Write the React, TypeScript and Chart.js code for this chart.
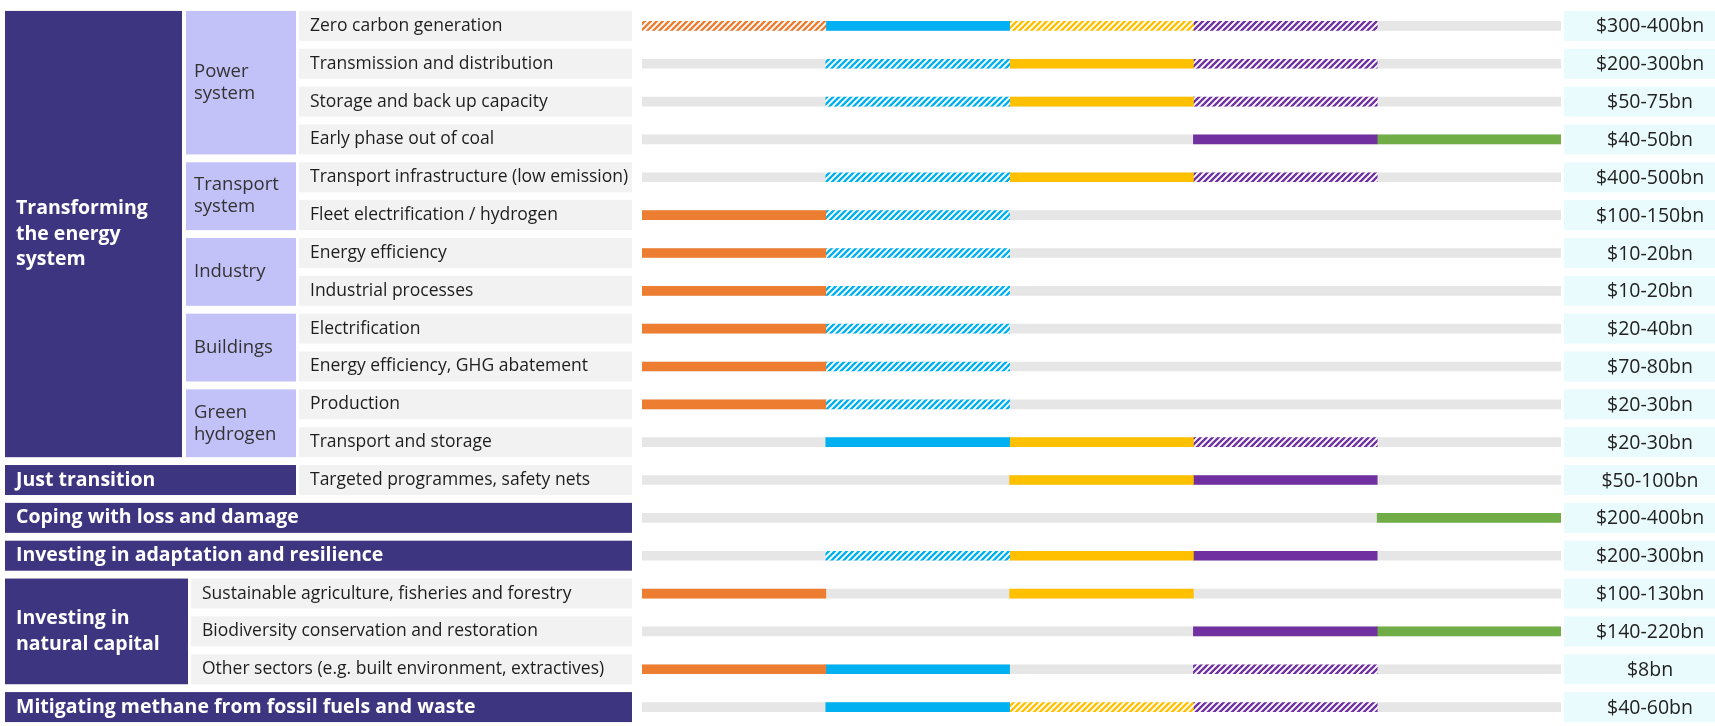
import React, { useEffect, useRef } from "react";
import { Chart, registerables } from "chart.js";

Chart.register(...registerables);

// ---- data ----
const rowLabels = [
  "Zero carbon generation",
  "Transmission and distribution",
  "Storage and back up capacity",
  "Early phase out of coal",
  "Transport infrastructure (low emission)",
  "Fleet electrification / hydrogen",
  "Energy efficiency",
  "Industrial processes",
  "Electrification",
  "Energy efficiency, GHG abatement",
  "Production",
  "Transport and storage",
  "Targeted programmes, safety nets",
  "",
  "",
  "Sustainable agriculture, fisheries and forestry",
  "Biodiversity conservation and restoration",
  "Other sectors (e.g. built environment, extractives)",
  "",
];

const valueLabels = [
  "$300-400bn",
  "$200-300bn",
  "$50-75bn",
  "$40-50bn",
  "$400-500bn",
  "$100-150bn",
  "$10-20bn",
  "$10-20bn",
  "$20-40bn",
  "$70-80bn",
  "$20-30bn",
  "$20-30bn",
  "$50-100bn",
  "$200-400bn",
  "$200-300bn",
  "$100-130bn",
  "$140-220bn",
  "$8bn",
  "$40-60bn",
];

// state per row: 0 = none, 1 = solid, 2 = hatched
const orangeCol = [2, 0, 0, 0, 0, 1, 1, 1, 1, 1, 1, 0, 0, 0, 0, 1, 0, 1, 0];
const blueCol = [1, 2, 2, 0, 2, 2, 2, 2, 2, 2, 2, 1, 0, 0, 2, 0, 0, 1, 1];
const yellowCol = [2, 1, 1, 0, 1, 0, 0, 0, 0, 0, 0, 1, 1, 0, 1, 1, 0, 0, 2];
const purpleCol = [2, 2, 2, 1, 2, 0, 0, 0, 0, 0, 0, 2, 1, 0, 1, 0, 1, 2, 2];
const greenCol = [0, 0, 0, 1, 0, 0, 0, 0, 0, 0, 0, 0, 0, 1, 0, 0, 1, 0, 0];

const columns = [orangeCol, blueCol, yellowCol, purpleCol, greenCol];
const columnColors = ["#ed7d31", "#00b0f0", "#ffc000", "#7030a0", "#70ad47"];

// main groups: label lines, row range, right edge kind
const groupLabels = [
  ["Transforming", "the energy", "system"],
  ["Just transition"],
  ["Coping with loss and damage"],
  ["Investing in adaptation and resilience"],
  ["Investing in", "natural capital"],
  ["Mitigating methane from fossil fuels and waste"],
];
const groupFrom = [0, 12, 13, 14, 15, 18];
const groupTo = [11, 12, 13, 14, 17, 18];
const groupKind = ["sub", "narrow", "full", "full", "nat", "full"];

const subLabels = [
  ["Power", "system"],
  ["Transport", "system"],
  ["Industry"],
  ["Buildings"],
  ["Green", "hydrogen"],
];
const subFrom = [0, 4, 6, 8, 10];
const subTo = [3, 5, 7, 9, 11];

const DARK = "#3e3580";
const LAV = "#c2c2f9";
const CELL = "#f2f2f2";
const TRACK = "#e6e6e6";
const VALCELL = "#eafbfd";
const FONT = "'Open Sans', sans-serif";

function hatch(color: string) {
  const s = 6;
  const c = document.createElement("canvas");
  c.width = s;
  c.height = s;
  const x = c.getContext("2d")!;
  x.fillStyle = "#ffffff";
  x.fillRect(0, 0, s, s);
  x.strokeStyle = color;
  x.lineWidth = 2.3;
  x.beginPath();
  x.moveTo(-1, s + 1);
  x.lineTo(s + 1, -1);
  x.moveTo(-1, 1);
  x.lineTo(1, -1);
  x.moveTo(s - 1, s + 1);
  x.lineTo(s + 1, s - 1);
  x.stroke();
  return x.createPattern(c, "repeat")!;
}

const tablePlugin = {
  id: "tablePlugin",
  beforeDraw(chart: any) {
    const ctx = chart.ctx as CanvasRenderingContext2D;
    const y = chart.scales.y;
    const cy = (i: number) => y.getPixelForValue(i);
    const HH = 15;
    ctx.save();
    ctx.fillStyle = "#ffffff";
    ctx.fillRect(0, 0, chart.width, chart.height);

    // value cells
    for (let i = 0; i < valueLabels.length; i++) {
      const c = cy(i);
      ctx.fillStyle = VALCELL;
      ctx.fillRect(1564, c - HH, 1715 - 1564, HH * 2);
      ctx.fillStyle = "#222222";
      ctx.font = `19.5px ${FONT}`;
      ctx.textAlign = "center";
      ctx.textBaseline = "middle";
      ctx.fillText(valueLabels[i], 1650, c + 1);
    }

    // groups
    for (let g = 0; g < groupLabels.length; g++) {
      const top = cy(groupFrom[g]) - HH;
      const bot = cy(groupTo[g]) + HH;
      const kind = groupKind[g];
      const x1 = kind === "sub" ? 182 : kind === "narrow" ? 296 : kind === "nat" ? 188 : 632;
      ctx.fillStyle = DARK;
      ctx.fillRect(5, top, x1 - 5, bot - top);
      const lines = groupLabels[g];
      const lh = 25.5;
      const mid = (top + bot) / 2;
      ctx.fillStyle = "#ffffff";
      ctx.font = `bold 19.5px ${FONT}`;
      ctx.textAlign = "left";
      ctx.textBaseline = "middle";
      lines.forEach((t, k) => {
        ctx.fillText(t, 16, mid + (k - (lines.length - 1) / 2) * lh);
      });
      // item cells
      const itemX0 = kind === "nat" ? 191 : 299;
      if (kind !== "full") {
        for (let r = groupFrom[g]; r <= groupTo[g]; r++) {
          if (!rowLabels[r]) continue;
          const c = cy(r);
          ctx.fillStyle = CELL;
          ctx.fillRect(itemX0, c - HH, 632 - itemX0, HH * 2);
          ctx.fillStyle = "#1e1e1e";
          ctx.font = `17.5px ${FONT}`;
          ctx.textAlign = "left";
          ctx.textBaseline = "middle";
          ctx.fillText(rowLabels[r], itemX0 + 11, c);
        }
      }
    }

    // sub groups
    for (let s = 0; s < subLabels.length; s++) {
      const top = cy(subFrom[s]) - HH;
      const bot = cy(subTo[s]) + HH;
      ctx.fillStyle = LAV;
      ctx.fillRect(186, top, 296 - 186, bot - top);
      const lines = subLabels[s];
      const lh = 22;
      const mid = (top + bot) / 2;
      ctx.fillStyle = "#333333";
      ctx.font = `18.5px ${FONT}`;
      ctx.textAlign = "left";
      ctx.textBaseline = "middle";
      lines.forEach((t, k) => {
        ctx.fillText(t, 194, mid + (k - (lines.length - 1) / 2) * lh);
      });
    }
    ctx.restore();
  },
};

export default function App() {
  const ref = useRef<HTMLCanvasElement | null>(null);
  useEffect(() => {
    document.body.style.margin = "0";
    const canvas = ref.current!;
    const datasets: any[] = columns.map((col, ci) => ({
      label: "col" + ci,
      data: col.map((s) => (s ? [ci, ci + 1] : null)),
      backgroundColor: col.map((s) => (s === 2 ? hatch(columnColors[ci]) : columnColors[ci])),
      borderWidth: 0,
      barThickness: 9,
      grouped: false,
      order: 0,
    }));
    datasets.push({
      label: "track",
      data: rowLabels.map(() => [0, 5]),
      backgroundColor: TRACK,
      borderWidth: 0,
      barThickness: 9,
      grouped: false,
      order: 5,
    });
    const chart = new Chart(canvas, {
      type: "bar",
      data: { labels: rowLabels.map((l, i) => l || "row" + i), datasets },
      options: {
        indexAxis: "y",
        animation: false,
        responsive: false,
        devicePixelRatio: 1,
        layout: { padding: { left: 642, right: 154, top: 7, bottom: 0 } },
        scales: {
          x: { type: "linear", min: 0, max: 5, display: false },
          y: { type: "category", display: false, offset: true },
        },
        plugins: { legend: { display: false }, tooltip: { enabled: false } },
      },
      plugins: [tablePlugin],
    } as any);
    return () => chart.destroy();
  }, []);
  return (
    <div style={{ position: "fixed", left: 0, top: 0, width: 1715, height: 726, background: "#fff" }}>
      <canvas ref={ref} width={1715} height={726} />
    </div>
  );
}
